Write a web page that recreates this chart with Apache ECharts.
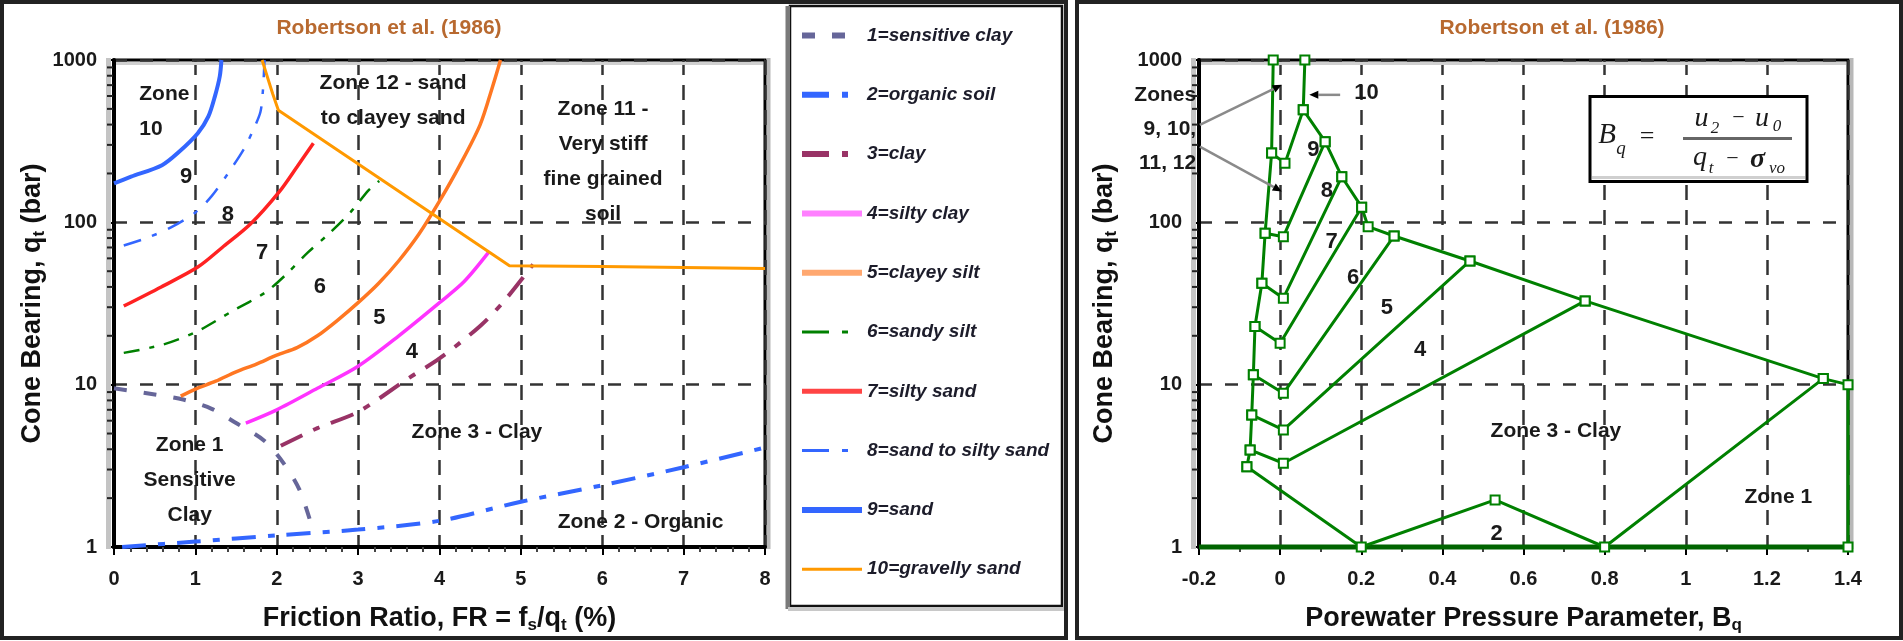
<!DOCTYPE html>
<html><head><meta charset="utf-8">
<script src="https://cdn.jsdelivr.net/npm/echarts@6/dist/echarts.min.js"></script>
<style>html,body{margin:0;padding:0;background:#fff}#c{width:1903px;height:641px}</style>
</head><body><div id="c"></div>
<script>
// ---------------- data ----------------
const frTickLabels = ['0','1','2','3','4','5','6','7','8'];
const bqTickLabels = ['-0.2','0','0.2','0.4','0.6','0.8','1','1.2','1.4'];
const qTickLabels = ['1','10','100','1000'];
const qMinorTicks = [2,3,4,5,6,7,8,9,20,30,40,50,60,70,80,90,200,300,400,500,600,700,800,900];

const soilNames = ['1=sensitive clay','2=organic soil','3=clay','4=silty clay','5=clayey silt',
  '6=sandy silt','7=silty sand','8=sand to silty sand','9=sand','10=gravelly sand'];

const sensitiveClay = [[0,9.5],[0.5,8.7],[0.85,8.1],[1.2,7.1],[1.5,5.8],[1.85,4.5],[2.1,3.2],[2.28,2.25],[2.42,1.4]];
const organicSoil = [[0.1,1.0],[1.0,1.08],[2.0,1.18],[3.0,1.28],[4.0,1.45],[5.0,1.9],[6.0,2.4],[7.0,3.1],[8.0,4.1]];
const clay = [[2.05,4.2],[2.5,5.4],[3.0,6.8],[3.6,10.8],[4.0,14.5],[4.5,23],[4.8,33],[5.15,55]];
const siltyClay = [[1.62,5.8],[2.0,7.0],[2.5,9.5],[3.0,13],[3.5,20],[4.0,32],[4.3,43],[4.6,65]];
const clayeySilt = [[0.82,8.5],[1.0,9.4],[1.25,10.5],[1.5,12],[1.75,13.4],[2.0,15.2],[2.25,16.9],[2.5,20],[2.75,25],[3.0,32],[3.25,42],[3.5,58],[3.75,85],[4.0,135],[4.25,225],[4.5,400],[4.65,680],[4.75,1000]];
const sandySilt = [[0.12,15.7],[0.61,17.7],[1.03,21.4],[1.46,28.5],[1.86,37],[2.12,48],[2.38,65],[2.64,85],[2.91,116],[3.13,158],[3.26,180]];
const siltySand = [[0.12,30.5],[0.58,40],[1.03,53],[1.33,70],[1.68,98],[2.03,154],[2.25,220],[2.45,307]];
const sandToSiltySand = [[0.12,72],[0.4,80],[0.7,93],[1.0,115],[1.2,145],[1.4,200],[1.6,285],[1.72,380],[1.8,480],[1.83,650],[1.85,1000]];
const sand = [[0,174],[0.21,191],[0.59,225],[0.8,272],[1.03,354],[1.16,449],[1.24,597],[1.3,794],[1.32,1000]];
const gravellySand = [[1.82,1000],[1.88,800],[1.95,620],[2.02,490],[4.86,54],[6.0,53.5],[8.0,52]];

const frZoneLabels = [
  {text:'Zone\n10', x:0.31, y:482, align:'left', size:21},
  {text:'9', x:0.885, y:190, size:22},
  {text:'8', x:1.40, y:111, size:22},
  {text:'7', x:1.82, y:64.7, size:22},
  {text:'6', x:2.53, y:40, size:22},
  {text:'5', x:3.26, y:25.8, size:22},
  {text:'4', x:3.66, y:15.9, size:22},
  {text:'Zone 12 - sand\nto clayey sand', x:3.43, y:564, size:21},
  {text:'Zone 11 -\nVery stiff\nfine grained\nsoil', x:6.01, y:237, size:21},
  {text:'Zone 3 - Clay', x:4.46, y:5.1, size:21},
  {text:'Zone 1\nSensitive\nClay', x:0.93, y:2.59, size:21},
  {text:'Zone 2 - Organic', x:6.47, y:1.43, size:21}
];

// Bq chart
const bqLeftBoundary = [[-0.017,1000],[-0.021,267],[-0.037,85.7],[-0.045,42.2],[-0.062,22.8],[-0.066,11.5],[-0.070,6.51],[-0.074,3.96],[-0.082,3.12]];
const bqEnvelope = [[0.061,1000],[0.057,493],[0.111,314],[0.152,191],[0.201,124],[0.217,94],[0.281,82.4],[0.468,57.8],[0.752,32.8],[1.339,10.9],[1.4,10],[1.4,1]];
const bqDivider1 = [[-0.021,267],[0.012,231],[0.057,493]];
const bqDivider2 = [[-0.037,85.7],[0.008,81.6],[0.111,314]];
const bqDivider3 = [[-0.045,42.2],[0.008,34.1],[0.152,191]];
const bqDivider4 = [[-0.062,22.8],[0.0,18.0],[0.201,124]];
const bqDivider5 = [[-0.066,11.5],[0.008,8.85],[0.281,82.4]];
const bqDivider6 = [[-0.070,6.51],[0.008,5.26],[0.468,57.8]];
const bqDivider7 = [[-0.074,3.96],[0.008,3.28],[0.752,32.8]];
const bqZone2 = [[-0.082,3.12],[0.2,1],[0.53,1.95],[0.8,1],[1.339,10.9]];
const bqBase = [[-0.2,1],[1.4,1]];

const bqZoneLabels = [
  {text:'10', x:0.213, y:623, size:22},
  {text:'9', x:0.082, y:279, size:22},
  {text:'8', x:0.115, y:155, size:22},
  {text:'7', x:0.127, y:76, size:22},
  {text:'6', x:0.180, y:45.3, size:22},
  {text:'5', x:0.263, y:29.6, size:22},
  {text:'4', x:0.345, y:16.4, size:22},
  {text:'Zone 3 - Clay', x:0.68, y:5.15, size:21},
  {text:'2', x:0.534, y:1.21, size:22},
  {text:'Zone 1', x:1.228, y:2.03, size:21},
  {text:'Zones\n9, 10,\n11, 12', x:-0.207, y:376, size:21, align:'right'}
];
// leader lines [from, to(arrow tip)]
const bqLeaders = [
  [[-0.198,398],[0.004,703]],
  [[-0.198,293],[0.004,155]],
  [[0.148,610],[0.072,610]]
];

// ---------------- styles ----------------
const FONT = '"Liberation Sans", Arial, sans-serif';
const SERIF = '"Liberation Serif", "Times New Roman", serif';
const DD = [27,13,6,14];
const curveStyles = [
  {color:'#666699', width:4, type:[13,17], lw:6, ltype:[13,17]},
  {color:'#3366ff', width:4, type:[24,12,7,12], lw:6, ltype:DD},
  {color:'#993366', width:4, type:[24,12,7,12], lw:6, ltype:DD},
  {color:'#ff33ff', width:3.5, type:'solid', lw:6, lc:'#ff80ff'},
  {color:'#ff7722', width:3.5, type:'solid', lw:6, lc:'#ffa870'},
  {color:'#008000', width:2.5, type:[16,10,5,10], lw:3, ltype:DD},
  {color:'#ff2222', width:3.5, type:'solid', lw:5, lc:'#ff4444'},
  {color:'#3366ff', width:2.5, type:[18,12,5,12], lw:3, ltype:DD},
  {color:'#3366ff', width:4, type:'solid', lw:6},
  {color:'#ff9900', width:3, type:'solid', lw:3, smooth:false}
];
const curveData = [sensitiveClay, organicSoil, clay, siltyClay, clayeySilt, sandySilt, siltySand, sandToSiltySand, sand, gravellySand];

const tickLabelStyle = {fontFamily:FONT, fontSize:20, fontWeight:'bold', color:'#1a1a1a'};
const nameStyle = {fontFamily:FONT, fontSize:27, fontWeight:'bold', color:'#111', lineHeight:30,
  rich:{s:{fontFamily:FONT, fontSize:17, fontWeight:'bold', color:'#111', lineHeight:16, verticalAlign:'bottom'}}};

function xAxisCfg(gi, min, max, interval, minorSplit, labels, name){
  return {gridIndex:gi, type:'value', min, max, interval,
    axisLine:{show:true, onZero:false, lineStyle:{color:'#000', width:4}},
    axisTick:{show:true, length:8, lineStyle:{color:'#000', width:2}},
    minorTick:{show:true, splitNumber:minorSplit, length:5, lineStyle:{color:'#444', width:2}},
    axisLabel:Object.assign({margin:22, formatter:v=>labels[Math.round((v-min)/interval)]}, tickLabelStyle),
    splitLine:{show:true, lineStyle:{color:'#333', width:2.5, type:[15,10]}},
    name, nameLocation:'middle', nameGap:57, nameTextStyle:nameStyle};
}
function yAxisCfg(gi, gap){
  return {gridIndex:gi, type:'log', logBase:10, min:1, max:1000,
    axisLine:{show:true, onZero:false, lineStyle:{color:'#000', width:4}},
    axisTick:{show:true, length:7, lineStyle:{color:'#000', width:2}},
    axisLabel:Object.assign({margin:17, formatter:v=>qTickLabels[Math.round(Math.log10(v))]}, tickLabelStyle),
    splitLine:{show:true, lineStyle:{color:'#333', width:2.5, type:[13,13]}},
    name:'Cone Bearing, q{s|t} (bar)', nameLocation:'middle', nameRotate:90, nameGap:gap, nameTextStyle:nameStyle};
}
function minorTickSeries(gi, xAt){
  return {type:'custom', xAxisIndex:gi, yAxisIndex:gi, silent:true, clip:false, z:4,
    data:qMinorTicks.map(v=>[xAt, v]),
    renderItem:(params, api)=>{
      const p = api.coord([api.value(0), api.value(1)]);
      return {type:'line', shape:{x1:p[0]-7, y1:p[1], x2:p[0]-1, y2:p[1]}, style:{stroke:'#222', lineWidth:2}};
    }};
}

const series = [];
curveData.forEach((d,i)=>{
  const s = curveStyles[i];
  series.push({name:soilNames[i], type:'line', xAxisIndex:0, yAxisIndex:0, data:d,
    symbol:'none', showSymbol:false, smooth: s.smooth===false ? false : 0.3, silent:true,
    color:s.color, lineStyle:{color:s.color, width:s.width, type:s.type}, z:3});
});
series.push(minorTickSeries(0, 0));
series.push(minorTickSeries(1, -0.2));
series.push({type:'line', xAxisIndex:1, yAxisIndex:1, data:bqBase, symbol:'none', clip:false, silent:true,
  lineStyle:{color:'#006400', width:5}, z:3});
[bqLeftBoundary, bqEnvelope, bqDivider1, bqDivider2, bqDivider3, bqDivider4, bqDivider5, bqDivider6, bqDivider7, bqZone2].forEach(d=>{
  series.push({type:'line', xAxisIndex:1, yAxisIndex:1, data:d, clip:false, silent:true,
    symbol:'rect', symbolSize:9, showSymbol:true,
    lineStyle:{color:'#008000', width:3}, itemStyle:{color:'#fff', borderColor:'#008000', borderWidth:2}, z:4});
});

const option = {
  animation:false,
  backgroundColor:'#fff',
  grid:[
    {left:114, top:60, width:651, height:487, show:true, borderColor:'#000', borderWidth:3},
    {left:1199, top:60, width:649, height:487, show:true, borderColor:'#000', borderWidth:3}
  ],
  xAxis:[
    xAxisCfg(0, 0, 8, 1, 5, frTickLabels, 'Friction Ratio, FR = f{s|s}/q{s|t} (%)'),
    xAxisCfg(1, -0.2, 1.4, 0.2, 2, bqTickLabels, 'Porewater Pressure Parameter, B{s|q}')
  ],
  yAxis:[yAxisCfg(0, 66), yAxisCfg(1, 79)],
  legend:{show:true, orient:'vertical', left:799, top:26, padding:0, itemGap:40.3,
    itemWidth:60, itemHeight:16, selectedMode:false,
    itemStyle:{opacity:0, borderWidth:0},
    textStyle:{fontFamily:FONT, fontSize:19, fontWeight:'bold', fontStyle:'italic', color:'#1c1c2a', lineHeight:16},
    data:soilNames.map((n,i)=>({name:n, itemStyle:{opacity:0, borderWidth:0}, lineStyle:{width:curveStyles[i].lw, color:curveStyles[i].lc||curveStyles[i].color,
      type:curveStyles[i].ltype||curveStyles[i].type, opacity:1}}))},
  series
};

const chart = echarts.init(document.getElementById('c'), null, {renderer:'canvas'});
chart.setOption(option);

const P = (gi, x, y) => chart.convertToPixel({gridIndex:gi}, [x, y]);
const g = [];
function txt(x, y, text, o){
  o = o || {};
  g.push({type:'text', x, y, z:o.z||20, silent:true, style:{text, fill:o.fill||'#1a1a1a',
    fontFamily:o.family||FONT, fontSize:o.size||21, fontWeight:o.weight||'bold', fontStyle:o.style||'normal',
    align:o.align||'center', verticalAlign:'middle', textAlign:o.align||'center', textVerticalAlign:'middle',
    lineHeight:o.lh||35}});
}
function rect(x, y, w, h, style, z){ g.push({type:'rect', silent:true, z:z==null?1:z, shape:{x, y, width:w, height:h}, style}); }

// panels
rect(2, 2, 1064, 636, {fill:'none', stroke:'#222', lineWidth:4}, 30);
rect(1077, 2, 824, 636, {fill:'none', stroke:'#222', lineWidth:4}, 30);
// legend box
rect(790, 6, 272, 600, {fill:'#fff', stroke:'#111', lineWidth:2.5}, 1);
rect(785.5, 6, 4.5, 603, {fill:'#7a7a7a'}, 2);
rect(788, 607, 276, 4, {fill:'#c8c8c8'}, 2);
// plot shadows
rect(106, 58, 5, 491, {fill:'#c4c4c4'}, 1);
rect(116, 62, 647, 3, {fill:'#d0d0d0'}, 1);
rect(767, 58, 3.5, 491, {fill:'#b8b8b8'}, 1);
rect(1191, 58, 5, 491, {fill:'#c4c4c4'}, 1);
rect(1201, 62, 645, 3, {fill:'#d0d0d0'}, 1);
rect(1850, 58, 3.5, 491, {fill:'#b8b8b8'}, 1);

// titles
txt(389, 28, 'Robertson et al. (1986)', {fill:'#b8692f', size:21});
txt(1552, 28, 'Robertson et al. (1986)', {fill:'#b8692f', size:21});

// zone labels
frZoneLabels.forEach(l=>{ const p = P(0, l.x, l.y); txt(p[0], p[1], l.text, {align:l.align, size:l.size}); });
bqZoneLabels.forEach(l=>{ const p = P(1, l.x, l.y); txt(p[0], p[1], l.text, {align:l.align, size:l.size, lh:34}); });

// leaders with arrow heads
bqLeaders.forEach(([a,b])=>{
  const p1 = P(1, a[0], a[1]), p2 = P(1, b[0], b[1]);
  const dx = p2[0]-p1[0], dy = p2[1]-p1[1], L = Math.hypot(dx,dy), ux = dx/L, uy = dy/L;
  const base = [p2[0]-ux*9, p2[1]-uy*9];
  g.push({type:'line', silent:true, z:6, shape:{x1:p1[0], y1:p1[1], x2:base[0], y2:base[1]}, style:{stroke:'#8a8a8a', lineWidth:2.5}});
  g.push({type:'polygon', silent:true, z:6, shape:{points:[[p2[0],p2[1]],[base[0]-uy*4, base[1]+ux*4],[base[0]+uy*4, base[1]-ux*4]]}, style:{fill:'#000'}});
});

// formula box
rect(1590, 96.5, 217, 85, {fill:'#fff', stroke:'#000', lineWidth:3}, 8);
rect(1592, 176, 213, 3, {fill:'#cfcfcf'}, 9);
const F = {family:SERIF, weight:'normal', style:'italic', z:10};
txt(1607, 135, 'B', Object.assign({}, F, {size:29}));
txt(1621, 149, 'q', Object.assign({}, F, {size:19}));
txt(1647, 137, '=', Object.assign({}, F, {size:26, style:'normal'}));
rect(1683, 137, 109, 3, {fill:'#666'}, 10);
txt(1701.5, 119, 'u', Object.assign({}, F, {size:28}));
txt(1715, 129, '2', Object.assign({}, F, {size:17}));
txt(1738.5, 118, '\u2212', Object.assign({}, F, {size:22, style:'normal'}));
txt(1762, 119, 'u', Object.assign({}, F, {size:28}));
txt(1777, 127, '0', Object.assign({}, F, {size:17}));
txt(1700, 158, 'q', Object.assign({}, F, {size:28}));
txt(1711, 169, 't', Object.assign({}, F, {size:17}));
txt(1732.5, 159, '\u2212', Object.assign({}, F, {size:22, style:'normal'}));
txt(1757.5, 160, '\u03c3', Object.assign({}, F, {size:28, weight:'bold'}));
txt(1777, 169, 'vo', Object.assign({}, F, {size:17}));

chart.setOption({graphic:g});
</script>
</body></html>
